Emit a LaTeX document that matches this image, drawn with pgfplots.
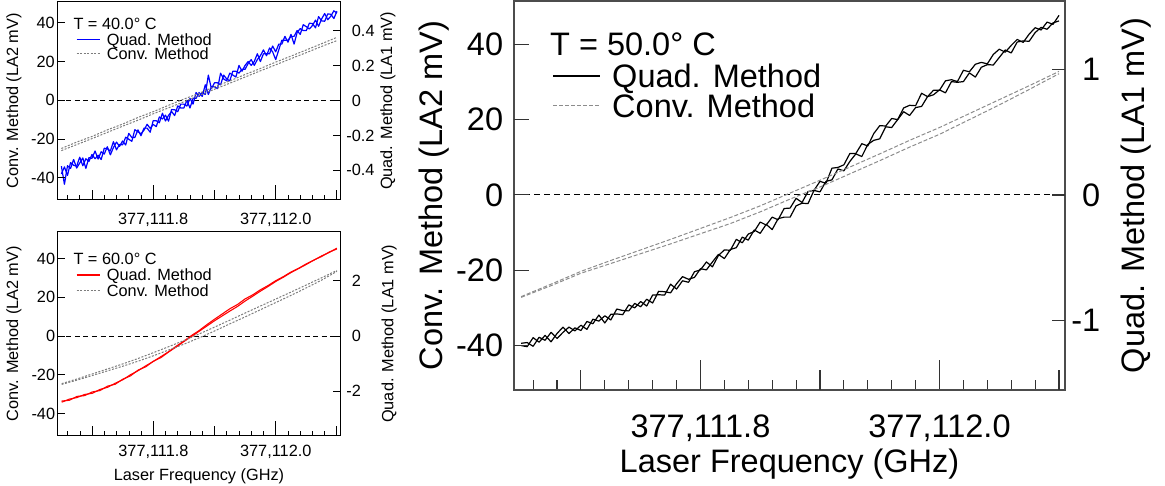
\documentclass[border=0pt]{standalone}
\usepackage{fontspec}
\setmainfont{Liberation Sans}
\usepackage{pgfplots}
\pgfplotsset{compat=1.18}
\usepackage{pgfplotstable}
\newcommand{\smallfont}{\fontsize{16.3}{19}\selectfont}
\newcommand{\bigfont}{\fontsize{32.5}{38}\selectfont}
\definecolor{convgray}{RGB}{125,125,125}
\definecolor{convgrayb}{RGB}{140,140,140}
\definecolor{qblue}{RGB}{0,0,255}
\definecolor{qred}{RGB}{255,0,0}

% T = 40 C, quadrature method (two scans)
\pgfplotstableread{
x a b
111.650 -34.0 -38.0
111.655 -43.4 -34.4
111.660 -33.8 -38.8
111.665 -35.2 -32.2
111.670 -30.6 -33.6
111.675 -35.0 -34.0
111.680 -32.4 -29.4
111.685 -29.8 -33.8
111.690 -35.2 -30.2
111.695 -29.6 -31.6
111.700 -30.0 -28.0
111.705 -26.2 -30.2
111.710 -30.4 -28.4
111.715 -26.6 -30.6
111.720 -27.8 -24.8
111.725 -24.0 -25.0
111.730 -28.2 -26.2
111.735 -24.4 -21.4
111.740 -21.6 -25.6
111.745 -23.8 -22.8
111.750 -21.0 -23.0
111.755 -23.1 -19.1
111.760 -17.1 -20.1
111.765 -19.2 -21.2
111.770 -19.2 -15.2
111.775 -15.3 -16.3
111.780 -18.3 -17.3
111.785 -14.4 -15.4
111.790 -14.4 -12.4
111.795 -16.5 -14.5
111.800 -10.5 -12.5
111.805 -10.6 -13.6
111.810 -11.6 -8.6
111.815 -6.7 -9.7
111.820 -10.7 -7.7
111.825 -7.8 -10.8
111.830 -5.8 -4.8
111.835 -7.9 -4.9
111.840 -2.9 -5.9
111.845 -4.0 -2.0
111.850 -4.0 -2.0
111.855 0.0 -3.0
111.860 -4.0 1.0
111.865 1.0 -2.0
111.870 1.0 4.0
111.875 4.0 2.0
111.880 2.0 4.0
111.885 8.0 3.0
111.890 3.0 13.0
111.895 7.0 6.0
111.900 7.0 9.0
111.905 6.0 9.0
111.910 14.0 8.0
111.915 11.0 13.0
111.920 10.0 11.0
111.925 14.0 10.0
111.930 13.0 15.0
111.935 12.0 15.0
111.940 18.0 14.0
111.945 15.0 16.0
111.950 18.0 16.0
111.955 20.0 19.0
111.960 18.0 21.0
111.965 20.0 18.0
111.970 24.0 21.0
111.975 20.0 23.0
111.980 24.0 26.0
111.985 24.0 23.0
111.990 24.0 27.0
111.995 28.0 25.0
112.000 25.0 21.0
112.005 29.0 26.0
112.010 29.0 31.0
112.015 33.0 31.0
112.020 30.0 31.0
112.025 34.0 33.0
112.030 29.0 33.0
112.035 35.0 36.0
112.040 37.0 34.0
112.045 36.0 39.0
112.050 36.0 38.0
112.055 39.8 36.8
112.060 39.6 38.6
112.065 37.4 41.4
112.070 43.2 38.2
112.075 41.0 42.0
112.080 40.8 44.8
112.085 44.6 41.6
112.090 44.4 43.4
112.095 42.2 46.2
112.100 46.0 45.0
}\quadforty

% T = 40 C, conventional method
\pgfplotstableread{
x a b
111.650 -24.9 -26.0
111.675 -21.6 -22.9
111.700 -18.7 -19.8
111.725 -15.3 -16.6
111.750 -12.3 -13.4
111.775 -8.9 -10.3
111.800 -5.9 -7.0
111.825 -2.6 -3.9
111.850 0.6 -0.8
111.875 3.6 2.5
111.900 7.0 5.7
111.925 10.0 8.8
111.950 13.3 12.0
111.975 16.4 15.2
112.000 19.7 18.3
112.025 22.8 21.5
112.050 26.0 24.6
112.075 29.2 27.8
112.100 32.5 30.8
}\convforty

% T = 60 C, quadrature method
\pgfplotstableread{
x a b
111.6500 -34.2 -33.6
111.6625 -32.6 -33.2
111.6750 -31.8 -31.2
111.6875 -30.2 -30.8
111.7000 -29.6 -28.9
111.7125 -27.6 -28.2
111.7250 -26.5 -25.9
111.7375 -24.4 -24.9
111.7500 -22.6 -22.3
111.7625 -20.0 -20.6
111.7750 -17.9 -17.6
111.7875 -15.4 -15.9
111.8000 -13.1 -13.0
111.8125 -10.6 -11.1
111.8250 -8.1 -8.2
111.8375 -5.2 -5.6
111.8500 -2.6 -2.8
111.8625 0.3 -0.2
111.8750 2.9 2.5
111.8875 5.9 5.2
111.9000 8.7 7.9
111.9125 11.4 10.4
111.9250 14.1 12.9
111.9375 16.3 15.3
111.9500 19.2 18.1
111.9625 21.3 20.6
111.9750 23.9 23.2
111.9875 26.1 25.6
112.0000 28.6 28.2
112.0125 30.7 30.4
112.0250 33.1 32.8
112.0375 35.0 34.9
112.0500 37.3 37.0
112.0625 39.2 39.3
112.0750 41.4 41.1
112.0875 43.2 43.4
112.1000 45.4 45.0
}\quadsixty

% T = 60 C, conventional method
\pgfplotstableread{
x a b
111.650 -24.6 -25.0
111.675 -22.2 -22.8
111.700 -19.6 -20.4
111.725 -17.0 -18.0
111.750 -14.4 -15.6
111.775 -11.6 -13.0
111.800 -8.6 -10.2
111.825 -5.5 -7.2
111.850 -2.3 -4.2
111.875 1.1 -0.9
111.900 4.6 2.6
111.925 8.2 6.3
111.950 11.9 9.9
111.975 15.5 13.6
112.000 19.1 17.3
112.025 22.7 21.0
112.050 26.4 24.9
112.075 30.1 28.9
112.100 33.9 33.4
}\convsixty

% T = 50 C, quadrature method
\pgfplotstableread{
x a b
111.650 -40.0 -39.4
111.655 -40.3 -39.2
111.660 -37.9 -40.2
111.665 -39.1 -37.8
111.670 -37.3 -38.6
111.675 -39.0 -36.5
111.680 -36.8 -38.1
111.685 -35.1 -36.5
111.690 -36.8 -35.1
111.695 -35.3 -36.1
111.700 -36.0 -34.6
111.705 -33.6 -35.7
111.710 -34.2 -33.0
111.715 -31.9 -33.5
111.720 -34.0 -32.1
111.725 -31.7 -33.2
111.730 -31.6 -30.3
111.735 -31.8 -30.7
111.740 -29.2 -30.8
111.745 -30.0 -28.8
111.750 -28.3 -29.7
111.755 -29.5 -27.7
111.760 -26.6 -28.7
111.765 -26.5 -25.6
111.770 -26.6 -25.7
111.775 -23.7 -26.0
111.780 -25.0 -23.6
111.785 -22.8 -21.7
111.790 -23.2 -22.4
111.795 -20.4 -21.9
111.800 -19.9 -19.6
111.805 -17.8 -19.9
111.810 -19.1 -17.8
111.815 -16.1 -15.8
111.820 -14.6 -16.9
111.825 -14.7 -14.5
111.830 -11.8 -14.0
111.835 -12.7 -11.2
111.840 -10.4 -12.0
111.845 -9.7 -9.3
111.850 -7.2 -10.2
111.855 -8.0 -7.8
111.860 -5.9 -9.2
111.865 -6.6 -6.3
111.870 -3.6 -5.9
111.875 -3.5 -5.9
111.880 -0.9 -2.9
111.885 -2.0 -2.2
111.890 0.9 -2.3
111.895 1.2 1.2
111.900 3.6 0.8
111.905 3.1 3.6
111.910 7.1 4.0
111.915 7.3 6.9
111.920 8.0 6.4
111.925 11.0 8.9
111.930 11.0 10.9
111.935 13.6 10.2
111.940 13.0 13.4
111.945 16.3 14.5
111.950 18.4 14.9
111.955 18.3 18.1
111.960 20.3 17.9
111.965 20.0 20.0
111.970 23.1 22.1
111.975 23.8 21.1
111.980 23.7 23.2
111.985 27.0 23.5
111.990 26.1 26.1
111.995 27.8 26.6
112.000 27.8 27.9
112.005 30.3 27.1
112.010 30.6 30.1
112.015 30.1 29.9
112.020 33.1 30.1
112.025 32.7 32.4
112.030 34.7 31.3
112.035 35.2 33.9
112.040 34.8 34.6
112.045 37.3 34.5
112.050 38.7 36.5
112.055 37.9 38.5
112.060 39.7 37.7
112.065 41.3 40.6
112.070 40.5 40.9
112.075 42.7 40.8
112.080 44.4 43.1
112.085 43.8 44.5
112.090 45.9 44.0
112.095 45.3 45.7
112.100 47.7 46.2
}\quadfifty

% T = 50 C, conventional method
\pgfplotstableread{
x a b
111.650 -27.0 -27.2
111.675 -23.7 -24.1
111.700 -20.3 -20.8
111.725 -17.4 -18.2
111.750 -14.6 -15.6
111.775 -11.8 -13.0
111.800 -8.9 -10.3
111.825 -6.0 -7.6
111.850 -2.9 -4.5
111.875 0.5 -1.1
111.900 3.9 2.1
111.925 7.4 5.6
111.950 10.9 9.1
111.975 14.5 12.7
112.000 17.9 16.1
112.025 21.6 20.0
112.050 25.3 23.9
112.075 29.0 28.0
112.100 32.8 32.2
}\convfifty

\pgfplotsset{
  panel/.style={
    scale only axis, anchor=south west,
    xmin=111.644, xmax=112.105,
    tick align=inside, clip=true,
  },
  smallpanel/.style={
    panel,
    axis line style={line width=1pt, black},
    every tick/.style={black, line width=0.9pt},
    tick label style={font=\smallfont},
    label style={font=\smallfont},
  },
  bigpanel/.style={
    panel,
    axis line style={line width=1.4pt, black!70},
    every tick/.style={black!80, line width=1.1pt},
    tick label style={font=\bigfont},
    label style={font=\bigfont},
  },
  smallminor/.style={
    xtick={111.8,112.0}, xticklabels={{377,111.8},{377,112.0}},
    minor xtick={111.66,111.68,111.72,111.74,111.76,111.78,111.82,111.84,111.86,111.88,111.92,111.94,111.96,111.98,112.02,112.04,112.06,112.08},
    tick pos=left, ytick=\empty,
  },
}

\begin{document}
\begin{tikzpicture}[x=1pt,y=1pt]
\path[use as bounding box] (0,0) rectangle (1165,486);

%================ TOP LEFT: T = 40 C ================
\begin{axis}[smallpanel, smallminor,
  at={(57.7pt,286pt)}, width=282.3pt, height=198.3pt,
  ymin=-51.5, ymax=50.9,
  major tick length=15pt, minor tick length=5pt,
  xticklabel style={inner sep=0pt, anchor=north, yshift=-13pt},
  ylabel={Conv. Method (LA2 mV)},
  ylabel style={at={(axis description cs:-0.155,0.5)}, anchor=center, inner sep=0pt},
]
\addplot[black, line width=1pt, dash pattern=on 5pt off 3.5pt, forget plot] coordinates {(111.644,0) (112.105,0)};
\addplot[qblue, line width=1.2pt, line join=round, forget plot] table[x=x,y=a] {\quadforty};
\addplot[qblue, line width=1.2pt, line join=round, forget plot] table[x=x,y=b] {\quadforty};
\addplot[convgray, line width=1pt, dash pattern=on 2pt off 1.5pt, forget plot] table[x=x,y=a] {\convforty};
\addplot[convgray, line width=1pt, dash pattern=on 2pt off 1.5pt, forget plot] table[x=x,y=b] {\convforty};
\node[anchor=west, inner sep=0pt, font=\smallfont] at (axis description cs:0.0553,0.890) {T = 40.0° C};
\draw[qblue, line width=1.6pt] (axis description cs:0.0673,0.8094) -- (axis description cs:0.1498,0.8094);
\draw[convgray, line width=1pt, dash pattern=on 2pt off 1.5pt] (axis description cs:0.0673,0.7363) -- (axis description cs:0.1498,0.7363);
\node[anchor=base west, inner sep=0pt, font=\smallfont] at (axis description cs:0.1736,0.7796) {Quad. Method};
\node[anchor=base west, inner sep=0pt, font=\smallfont] at (axis description cs:0.1736,0.7065) {Conv. Method};
\end{axis}
% medium x ticks
\begin{axis}[smallpanel, at={(57.7pt,286pt)}, width=282.3pt, height=198.3pt,
  ymin=-51.5, ymax=50.9, axis line style={draw=none},
  xtick={111.7,111.9,112.1}, xticklabels={,,}, tick pos=left, ytick=\empty,
  major tick length=10pt]
\end{axis}
% left y ticks
\begin{axis}[smallpanel, at={(57.7pt,286pt)}, width=282.3pt, height=198.3pt,
  ymin=-51.5, ymax=50.9, axis line style={draw=none},
  xtick=\empty, ytick={-40,-20,0,20,40}, yticklabels={-40,-20,0,20,40},
  ytick pos=left, major tick length=7pt,
  yticklabel style={inner sep=0pt, anchor=east, xshift=-2.7pt}]
\end{axis}
% right y axis
\begin{axis}[smallpanel, at={(57.7pt,286pt)}, width=282.3pt, height=198.3pt,
  ymin=-0.57, ymax=0.566, axis line style={draw=none},
  xtick=\empty, ytick={-0.4,-0.2,0,0.2,0.4},
  yticklabels={\llap{-}0.4,\llap{-}0.2,0,0.2,0.4},
  ytick pos=right, yticklabel pos=right, major tick length=7pt,
  yticklabel style={inner sep=0pt, anchor=west, xshift=11.7pt},
  ylabel={Quad. Method (LA1 mV)},
  ylabel style={at={(axis description cs:1.170,0.5)}, anchor=center, inner sep=0pt}]
\end{axis}

%================ BOTTOM LEFT: T = 60 C ================
\begin{axis}[smallpanel, smallminor,
  at={(58pt,50.3pt)}, width=282pt, height=204pt,
  ymin=-51.5, ymax=53.9,
  major tick length=15pt, minor tick length=5pt,
  xticklabel style={inner sep=0pt, anchor=north, yshift=-9.5pt},
  xlabel={Laser Frequency (GHz)},
  xlabel style={at={(axis description cs:0.5,-0.16)}, anchor=north, inner sep=0pt},
  ylabel={Conv. Method (LA2 mV)},
  ylabel style={at={(axis description cs:-0.156,0.5)}, anchor=center, inner sep=0pt},
]
\addplot[black, line width=1pt, dash pattern=on 5pt off 3.5pt, forget plot] coordinates {(111.644,0) (112.105,0)};
\addplot[qred, line width=1.1pt, line join=round, forget plot] table[x=x,y=a] {\quadsixty};
\addplot[qred, line width=1.1pt, line join=round, forget plot] table[x=x,y=b] {\quadsixty};
\addplot[convgray, line width=1pt, dash pattern=on 2pt off 1.5pt, forget plot] table[x=x,y=a] {\convsixty};
\addplot[convgray, line width=1pt, dash pattern=on 2pt off 1.5pt, forget plot] table[x=x,y=b] {\convsixty};
\node[anchor=west, inner sep=0pt, font=\smallfont] at (axis description cs:0.0543,0.8647) {T = 60.0° C};
\draw[qred, line width=1.3pt] (axis description cs:0.0663,0.7877) -- (axis description cs:0.1489,0.7877);
\draw[convgray, line width=1pt, dash pattern=on 2pt off 1.5pt] (axis description cs:0.0663,0.7093) -- (axis description cs:0.1489,0.7093);
\node[anchor=base west, inner sep=0pt, font=\smallfont] at (axis description cs:0.1727,0.7588) {Quad. Method};
\node[anchor=base west, inner sep=0pt, font=\smallfont] at (axis description cs:0.1727,0.6804) {Conv. Method};
\end{axis}
\begin{axis}[smallpanel, at={(58pt,50.3pt)}, width=282pt, height=204pt,
  ymin=-51.5, ymax=53.9, axis line style={draw=none},
  xtick={111.7,111.9,112.1}, xticklabels={,,}, tick pos=left, ytick=\empty,
  major tick length=10pt]
\end{axis}
\begin{axis}[smallpanel, at={(58pt,50.3pt)}, width=282pt, height=204pt,
  ymin=-51.5, ymax=53.9, axis line style={draw=none},
  xtick=\empty, ytick={-40,-20,0,20,40}, yticklabels={-40,-20,0,20,40},
  ytick pos=left, major tick length=7pt,
  yticklabel style={inner sep=0pt, anchor=east, xshift=-2.7pt}]
\end{axis}
\begin{axis}[smallpanel, at={(58pt,50.3pt)}, width=282pt, height=204pt,
  ymin=-3.61, ymax=3.78, axis line style={draw=none},
  xtick=\empty, ytick={-2,0,2}, yticklabels={\llap{-}2,0,2},
  ytick pos=right, yticklabel pos=right, major tick length=7pt,
  yticklabel style={inner sep=0pt, anchor=west, xshift=11.7pt},
  ylabel={Quad. Method (LA1 mV)},
  ylabel style={at={(axis description cs:1.174,0.5)}, anchor=center, inner sep=0pt}]
\end{axis}

%================ BIG RIGHT: T = 50 C ================
\begin{axis}[bigpanel,
  at={(514pt,96pt)}, width=551pt, height=389pt,
  ymin=-51.8, ymax=51.5,
  xtick={111.8,112.0}, xticklabels={{377,111.8},{377,112.0}},
  minor xtick={111.66,111.68,111.72,111.74,111.76,111.78,111.82,111.84,111.86,111.88,111.92,111.94,111.96,111.98,112.02,112.04,112.06,112.08},
  tick pos=left, ytick=\empty,
  major tick length=30pt, minor tick length=10pt,
  xticklabel style={inner sep=0pt, anchor=north, yshift=-25pt},
  xlabel={Laser Frequency (GHz)},
  xlabel style={at={(axis description cs:0.5,-0.152)}, anchor=north, inner sep=0pt},
  ylabel={Conv. Method (LA2 mV)},
  ylabel style={at={(axis description cs:-0.1452,0.5)}, anchor=center, inner sep=0pt},
]
\addplot[black, line width=1pt, dash pattern=on 6pt off 4pt, forget plot] coordinates {(111.644,0) (112.105,0)};
\addplot[black, line width=1.2pt, line join=round, forget plot] table[x=x,y=a] {\quadfifty};
\addplot[black, line width=1.2pt, line join=round, forget plot] table[x=x,y=b] {\quadfifty};
\addplot[convgrayb, line width=1pt, dash pattern=on 4pt off 2pt, forget plot] table[x=x,y=a] {\convfifty};
\addplot[convgrayb, line width=1pt, dash pattern=on 4pt off 2pt, forget plot] table[x=x,y=b] {\convfifty};
\node[anchor=west, inner sep=0pt, font=\bigfont] at (axis description cs:0.0653,0.8895) {T = 50.0° C};
\draw[black, line width=1.3pt] (axis description cs:0.0708,0.8072) -- (axis description cs:0.1561,0.8072);
\draw[convgrayb, line width=1pt, dash pattern=on 4pt off 2pt] (axis description cs:0.0708,0.7301) -- (axis description cs:0.1561,0.7301);
\node[anchor=base west, inner sep=0pt, font=\bigfont] at (axis description cs:0.1779,0.7771) {Quad. Method};
\node[anchor=base west, inner sep=0pt, font=\bigfont] at (axis description cs:0.1779,0.700) {Conv. Method};
\end{axis}
\begin{axis}[bigpanel, at={(514pt,96pt)}, width=551pt, height=389pt,
  ymin=-51.8, ymax=51.5, axis line style={draw=none},
  xtick={111.7,111.9,112.1}, xticklabels={,,}, tick pos=left, ytick=\empty,
  major tick length=20pt]
\end{axis}
\begin{axis}[bigpanel, at={(514pt,96pt)}, width=551pt, height=389pt,
  ymin=-51.8, ymax=51.5, axis line style={draw=none},
  xtick=\empty, ytick={-40,-20,0,20,40}, yticklabels={-40,-20,0,20,40},
  ytick pos=left, major tick length=15pt,
  yticklabel style={inner sep=0pt, anchor=east, xshift=-10.7pt}]
\end{axis}
\begin{axis}[bigpanel, at={(514pt,96pt)}, width=551pt, height=389pt,
  ymin=-1.554, ymax=1.546, axis line style={draw=none},
  xtick=\empty, ytick={-1,0,1}, yticklabels={\llap{-}1,0,1},
  ytick pos=right, yticklabel pos=right, major tick length=13pt,
  yticklabel style={inner sep=0pt, anchor=west, xshift=17pt},
  ylabel={Quad. Method (LA1 mV)},
  ylabel style={at={(axis description cs:1.1289,0.5)}, anchor=center, inner sep=0pt}]
\end{axis}
\end{tikzpicture}
\end{document}
